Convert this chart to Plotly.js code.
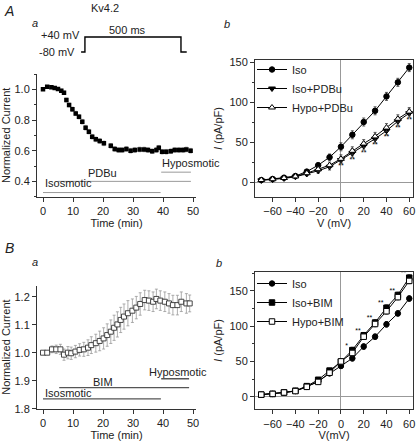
<!DOCTYPE html>
<html>
<head>
<meta charset="utf-8">
<script src="https://cdn.plot.ly/plotly-3.0.1.min.js"></script>
<style>html,body{margin:0;padding:0;background:#fff;}#chart{width:416px;height:441px;}</style>
</head>
<body>
<div id="chart"></div>
<script>
// ---------- Data ----------
// Panel A a : time course, PDBu
const timeA = [0,1.4,2.8,3.9,5,6.1,7,7.8,8.7,9.8,10.9,12,13.1,14.2,15.3,16.4,17.6,18.9,20.3,22.6,23.9,25.2,26.4,27.8,29.2,30.6,32.2,33.7,35,36.4,37.8,38.6,39.7,41.1,42.6,43.9,45.3,46.7,47.8,49.2];
const currA = [1.0,1.017,1.013,1.008,1.002,0.991,0.978,0.93,0.898,0.87,0.843,0.821,0.789,0.75,0.724,0.691,0.674,0.663,0.648,0.632,0.611,0.604,0.604,0.611,0.6,0.604,0.608,0.608,0.604,0.597,0.604,0.619,0.593,0.593,0.597,0.604,0.604,0.604,0.608,0.6];
const errA  = [0.005,0.008,0.008,0.008,0.008,0.01,0.01,0.012,0.012,0.014,0.014,0.014,0.015,0.015,0.015,0.015,0.015,0.015,0.015,0.015,0.015,0.015,0.015,0.015,0.015,0.015,0.015,0.015,0.015,0.015,0.015,0.015,0.015,0.015,0.015,0.015,0.015,0.015,0.015,0.015];
// Panel B a : time course, BIM
const timeB = [0,1.4,3,4.4,5.8,7,8.3,9.4,10.8,12.2,13.6,15,16.1,17.6,18.9,20.2,21.4,22.6,23.7,24.8,25.9,27,28.3,29.8,31.1,32.4,33.9,35.3,36.7,37.8,39.1,40.6,42,43.3,44.8,46.1,47.8,48.9];
const currB = [1.0,1.0,1.012,1.012,1.012,0.993,1.0,0.998,1.004,1.01,1.012,1.018,1.027,1.034,1.042,1.051,1.063,1.075,1.089,1.101,1.117,1.129,1.141,1.15,1.161,1.174,1.188,1.186,1.182,1.192,1.186,1.182,1.176,1.17,1.17,1.182,1.176,1.176];
const errB  = [0.003,0.005,0.012,0.015,0.018,0.02,0.022,0.022,0.022,0.022,0.025,0.028,0.03,0.032,0.035,0.038,0.04,0.042,0.045,0.045,0.045,0.045,0.045,0.042,0.04,0.04,0.035,0.035,0.035,0.035,0.035,0.035,0.035,0.035,0.035,0.035,0.035,0.03];
// Treatment bars
const barNamesA = ["Isosmotic","PDBu","Hyposmotic"];
const barStartA = [0,5,39.4];
const barEndA   = [39.2,49.3,49.3];
const barLevelA = [0.327,0.40,0.46];
const barNamesB = ["Isosmotic","BIM","Hyposmotic"];
const barStartB = [0,5.4,39.4];
const barEndB   = [39.3,48.7,48.7];
const barLevelB = [0.835,0.875,0.907];
// Voltage protocol
const protoT = [-20,0,0,500,500,530];
const protoV = [-80,-80,40,40,-80,-80];
// I-V curves
const volt = [-70,-60,-50,-40,-30,-20,-10,0,10,20,30,40,50,60];
const isoA  = [2.5,3.8,5.4,7.5,13,21,31,44,59,75,89,107,124.6,143];
const isoAe = [1,1,1,1.5,2,3,4,5,5,5,5,5,5,5];
const pdbuA  = [2,3,4.5,6.5,10,14,19,27.5,36,45,54,64,76,86];
const pdbuAe = [1,1,1,1.5,2,3,4,4,5,5,5,5,5,5];
const hypoA  = [2.5,3.5,5,7,11,16,21,29,39,48,57,68,79,88];
const hypoAe = [1,1,1,1.5,2,3,4,5,5,5,5,5,5,5];
const sigA = ["","","","","","","","**","**","**","**","**","**","**"];
const isoB  = [3,4,6,8,14,22,33,43.5,54.4,71,85,102.5,118,139];
const isoBe = [1,1,1,1.5,2,2,3,3,4,4,4,4,4,4];
const bimB  = [3,4,6,8.5,15,24,37,49.6,66,87,105,126,144,168.6];
const bimBe = [1,1,1,1.5,2,2,3,3,4,4,4,4,4,4];
const hypoB  = [3,4,6,8,14,21,34,50,62,85,103,121,141,164];
const hypoBe = [1,1,1,1.5,2,2,3,3,4,4,4,4,4,4];
const sigB = ["","","","","","","","","*","**","**","**","**","**"];

// ---------- Helpers ----------
const FONT = "Liberation Sans, Arial, Helvetica, sans-serif";
const W = 416, H = 441;
const px = v => v / W;
const py = v => 1 - v / H;

function ivTrace(y, e, name, symbol, fill, xa, ya, legend){
  return {x: volt, y: y, type:'scatter', mode:'lines+markers', name:name,
    xaxis:xa, yaxis:ya, legend:legend,
    line:{color:'#000', width:1},
    marker:{symbol:symbol, size: symbol.indexOf('triangle')>=0 ? 6 : 5.5, color:fill, line:{color:'#000', width:1}},
    error_y:{type:'data', array:e, visible:true, color:'#333', thickness:0.8, width:1.5}};
}

const traces = [];
// A a
traces.push({x:timeA, y:currA, type:'scatter', mode:'markers', xaxis:'x', yaxis:'y', showlegend:false,
  marker:{symbol:'square', size:4.5, color:'#000'},
  error_y:{type:'data', array:errA, visible:true, color:'#999', thickness:0.8, width:1.5}});
// B a
traces.push({x:timeB, y:currB, type:'scatter', mode:'markers', xaxis:'x3', yaxis:'y3', showlegend:false,
  marker:{symbol:'square', size:5, color:'#fff', line:{width:0.9, color:'#333'}},
  error_y:{type:'data', array:errB, visible:true, color:'#999', thickness:0.8, width:1.5}});
// protocol
traces.push({x:protoT, y:protoV, type:'scatter', mode:'lines', xaxis:'x5', yaxis:'y5', showlegend:false,
  line:{color:'#000', width:1.4}});
// A b
traces.push(ivTrace(isoA, isoAe, 'Iso', 'circle', '#000', 'x2', 'y2', 'legend'));
traces.push(ivTrace(pdbuA, pdbuAe, 'Iso+PDBu', 'triangle-down', '#000', 'x2', 'y2', 'legend'));
traces.push(ivTrace(hypoA, hypoAe, 'Hypo+PDBu', 'triangle-up', '#fff', 'x2', 'y2', 'legend'));
traces.push({x:volt, y:pdbuA.map((v,i)=>v - pdbuAe[i] - 3.5), text:sigA, type:'scatter', mode:'text',
  xaxis:'x2', yaxis:'y2', showlegend:false, textfont:{family:FONT, size:7, color:'#000'}});
// B b
traces.push(ivTrace(isoB, isoBe, 'Iso', 'circle', '#000', 'x4', 'y4', 'legend2'));
traces.push(ivTrace(bimB, bimBe, 'Iso+BIM', 'square', '#000', 'x4', 'y4', 'legend2'));
traces.push(ivTrace(hypoB, hypoBe, 'Hypo+BIM', 'square', '#fff', 'x4', 'y4', 'legend2'));
traces.push({x:volt.map(v=>v-5), y:bimB.map((v,i)=>v + bimBe[i] + 2), text:sigB, type:'scatter', mode:'text',
  xaxis:'x4', yaxis:'y4', showlegend:false, textfont:{family:FONT, size:7, color:'#000'}});

// ---------- Axes ----------
const tf = {family:FONT, size:11, color:'#222'};
function timeX(domain, anchor){
  return {domain:domain, anchor:anchor, range:[-2,51], tickvals:[0,10,20,30,40,50], ticks:'outside', ticklen:4,
    tickcolor:'#333', showline:true, linecolor:'#333', linewidth:1, showgrid:false, zeroline:false,
    tickfont:tf, title:{text:'Time (min)', font:tf, standoff:2}};
}
function ivX(domain, anchor, title){
  return {domain:domain, anchor:anchor, range:[-75.5,63.3], tickvals:[-60,-40,-20,0,20,40,60], ticks:'outside', ticklen:4,
    tickcolor:'#333', showline:true, mirror:true, linecolor:'#333', linewidth:1, showgrid:false,
    zeroline:true, zerolinecolor:'#999', zerolinewidth:1,
    tickfont:tf, title:{text:title, font:tf, standoff:2}};
}
function ivY(domain, anchor, range, tickvals){
  return {domain:domain, anchor:anchor, range:range, tickvals:tickvals, ticks:'outside', ticklen:4,
    tickcolor:'#333', showline:true, mirror:true, linecolor:'#333', linewidth:1, showgrid:false,
    zeroline:true, zerolinecolor:'#999', zerolinewidth:1,
    minor:{dtick:25, ticks:'outside', ticklen:2, tickcolor:'#333'},
    tickfont:tf, title:{text:'<i>I</i> (pA/pF)', font:tf, standoff:4}};
}

const xdomL = [px(37), px(196)];
const xdomR = [px(255), px(413)];

const shapes = [];
barNamesA.forEach((n,i)=>shapes.push({type:'line', xref:'x', yref:'y', x0:barStartA[i], x1:barEndA[i], y0:barLevelA[i], y1:barLevelA[i], line:{color:'#999', width:1}}));
barNamesB.forEach((n,i)=>shapes.push({type:'line', xref:'x3', yref:'y3', x0:barStartB[i], x1:barEndB[i], y0:barLevelB[i], y1:barLevelB[i], line:{color:'#555', width:1.3}}));

const ann = [];
function pa(text, x, y, opts){ ann.push(Object.assign({text:text, xref:'paper', yref:'paper', x:px(x), y:py(y), showarrow:false, font:tf, xanchor:'center', yanchor:'middle'}, opts||{})); }
pa('<i>A</i>', 9, 11, {font:{family:FONT, size:14, color:'#222'}});
pa('<i>B</i>', 9, 248, {font:{family:FONT, size:14, color:'#222'}});
pa('Kv4.2', 105, 8);
pa('<i>a</i>', 35, 23);
pa('<i>b</i>', 227, 24);
pa('<i>a</i>', 35, 262);
pa('<i>b</i>', 219, 263);
// protocol labels
ann.push({text:'+40 mV', xref:'x5', yref:'y5', x:-16, y:protoV[2]+16, xanchor:'right', yanchor:'middle', showarrow:false, font:tf});
ann.push({text:'-80 mV', xref:'x5', yref:'y5', x:-42, y:protoV[0], xanchor:'right', yanchor:'middle', showarrow:false, font:tf});
ann.push({text:'500 ms', xref:'x5', yref:'y5', x:224, y:protoV[2]+56, xanchor:'center', yanchor:'middle', showarrow:false, font:tf});
// treatment labels
const labPosA = [[0,0.389,'left'],[19.7,0.454,'center'],[39,0.519,'left']];
barNamesA.forEach((n,i)=>ann.push({text:n, xref:'x', yref:'y', x:labPosA[i][0], y:labPosA[i][1], xanchor:labPosA[i][2], yanchor:'middle', showarrow:false, font:tf}));
const labPosB = [[0,0.857,'left'],[20,0.897,'center'],[34.7,0.932,'left']];
barNamesB.forEach((n,i)=>ann.push({text:n, xref:'x3', yref:'y3', x:labPosB[i][0], y:labPosB[i][1], xanchor:labPosB[i][2], yanchor:'middle', showarrow:false, font:tf}));

const layout = {
  width:W, height:H, margin:{l:0,r:0,t:0,b:0}, paper_bgcolor:'#fff', plot_bgcolor:'#fff',
  font:{family:FONT, size:11, color:'#222'},
  xaxis: timeX(xdomL, 'y'),
  yaxis: {domain:[py(196.7), py(74)], anchor:'x', range:[0.3,1.1], tickvals:[0.4,0.6,0.8,1.0], tickformat:'.1f',
    ticks:'outside', ticklen:4, tickcolor:'#333', showline:true, linecolor:'#333', showgrid:false, zeroline:false,
    minor:{dtick:0.1, ticks:'outside', ticklen:2, tickcolor:'#333'},
    tickfont:tf, title:{text:'Normalized Current', font:tf, standoff:4}},
  xaxis3: timeX(xdomL, 'y3'),
  yaxis3: {domain:[py(408.7), py(285.5)], anchor:'x3', range:[0.8,1.24], tickvals:[0.8,0.9,1.0,1.1,1.2], ticktext:['1.8','1.9','1.0','1.1','1.2'],
    ticks:'outside', ticklen:4, tickcolor:'#333', showline:true, linecolor:'#333', showgrid:false, zeroline:false,
    tickfont:tf, title:{text:'Normalized Current', font:tf, standoff:4}},
  xaxis2: ivX(xdomR, 'y2', 'V (mV)'),
  yaxis2: ivY([py(197), py(60)], 'x2', [-18.75,152.5], [0,50,100,150]),
  xaxis4: ivX(xdomR, 'y4', 'V(mV)'),
  yaxis4: ivY([py(409.3), py(271.7)], 'x4', [-17.8,177], [0,50,100,150]),
  xaxis5: {domain:[px(30), px(190)], anchor:'y5', range:[-286,547], visible:false},
  yaxis5: {domain:[py(60), py(22)], anchor:'x5', range:[-144,160], visible:false},
  legend: {x:px(252), y:py(55), xanchor:'left', yanchor:'top', bgcolor:'rgba(0,0,0,0)', font:tf, tracegroupgap:0, itemwidth:30},
  legend2: {x:px(252), y:py(269), xanchor:'left', yanchor:'top', bgcolor:'rgba(0,0,0,0)', font:tf, tracegroupgap:0, itemwidth:30},
  shapes: shapes,
  annotations: ann
};

Plotly.newPlot('chart', traces, layout, {staticPlot:true, displayModeBar:false});
</script>
</body>
</html>
